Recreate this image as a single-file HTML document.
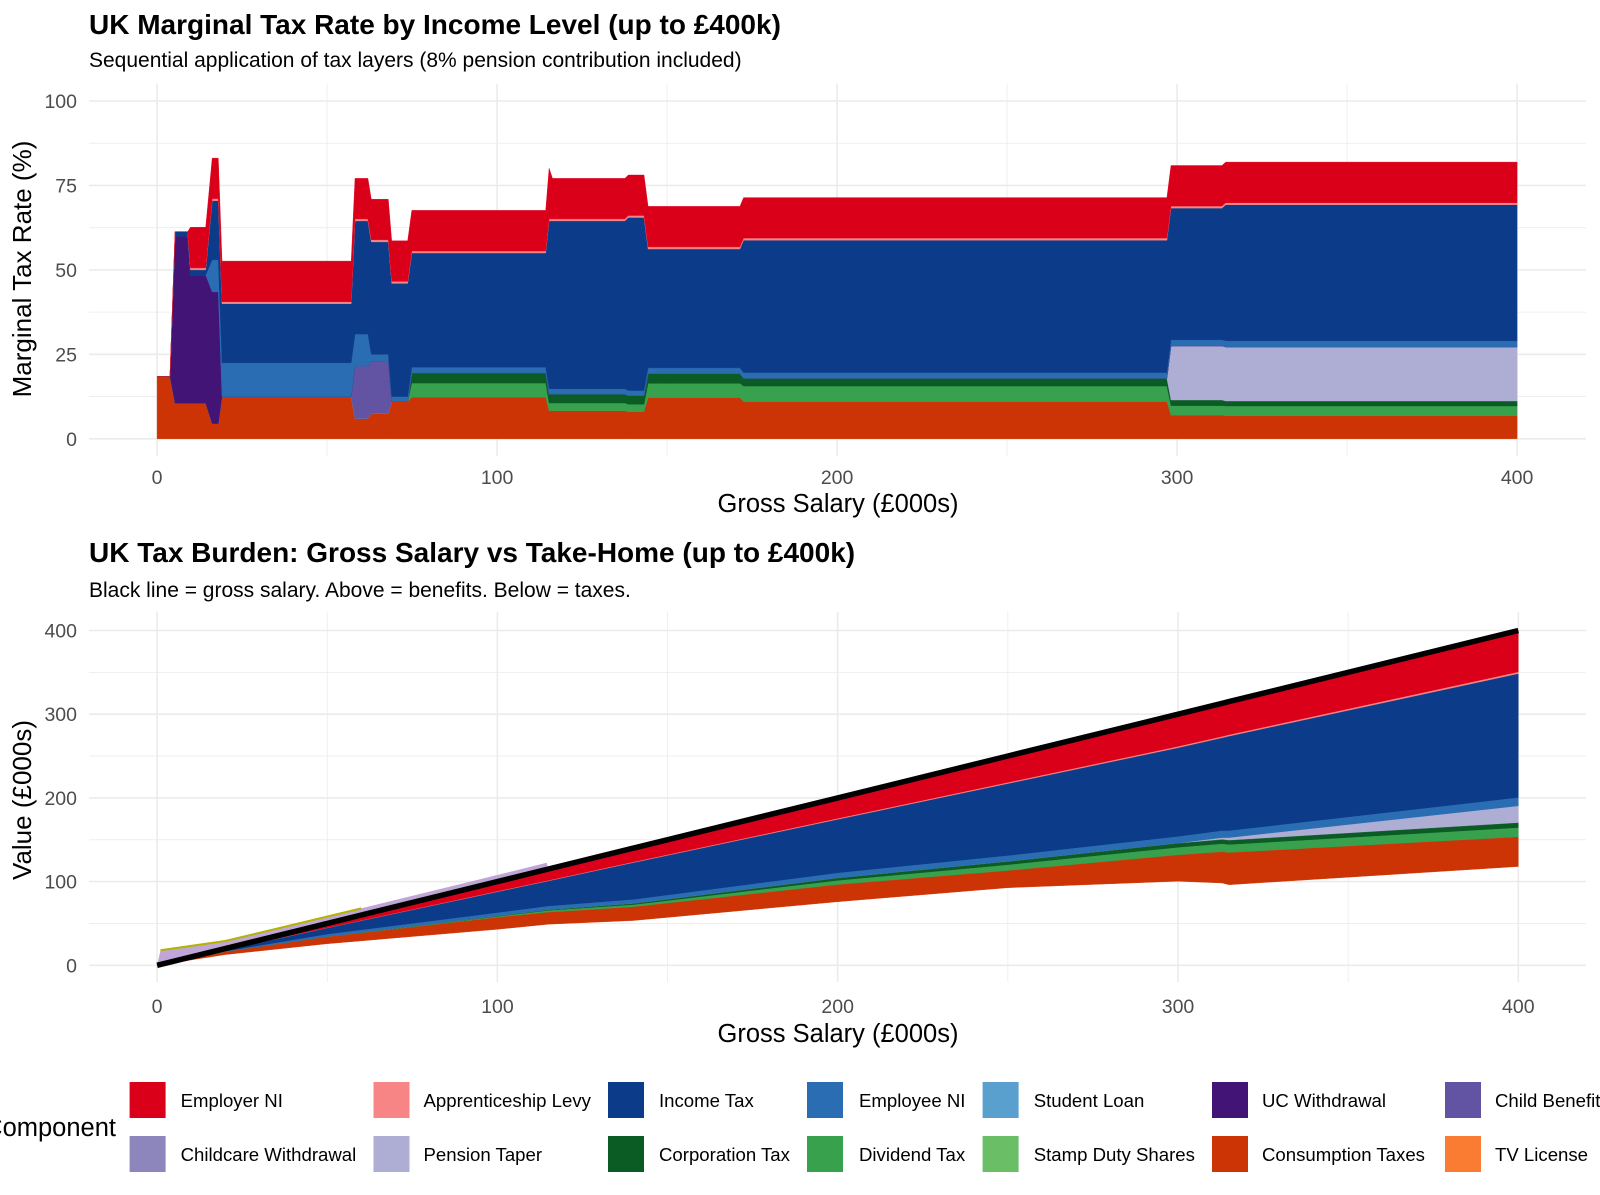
<!DOCTYPE html>
<html><head><meta charset="utf-8"><style>
html,body{margin:0;padding:0;background:#fff;}
svg{display:block;font-family:"Liberation Sans",Arial,sans-serif;}
</style></head><body>
<svg id="chart" width="1600" height="1195" viewBox="0 0 1600 1195" xmlns="http://www.w3.org/2000/svg">
<g id="top-grid"></g>
<g id="top-areas"></g>
<g id="bot-grid"></g>
<g id="bot-areas"></g>
<g id="axes-text"></g>
<text x="89" y="34" font-size="28" font-weight="bold" fill="#000">UK Marginal Tax Rate by Income Level (up to £400k)</text>
<text x="89" y="67" font-size="21" fill="#000">Sequential application of tax layers (8% pension contribution included)</text>
<text x="89" y="562" font-size="28" font-weight="bold" fill="#000">UK Tax Burden: Gross Salary vs Take-Home (up to £400k)</text>
<text x="89" y="597" font-size="21" fill="#000">Black line = gross salary. Above = benefits. Below = taxes.</text>
<text transform="translate(31,269) rotate(-90)" text-anchor="middle" font-size="26" fill="#000">Marginal Tax Rate (%)</text>
<text x="838" y="512" text-anchor="middle" font-size="25.5" fill="#000">Gross Salary (£000s)</text>
<text transform="translate(31,800) rotate(-90)" text-anchor="middle" font-size="26" fill="#000">Value (£000s)</text>
<text x="838" y="1042" text-anchor="middle" font-size="25.5" fill="#000">Gross Salary (£000s)</text>
<text x="116" y="1136" text-anchor="end" font-size="25.5" fill="#000">Component</text>
<g id="legend"></g>
</svg>
<script>
// ---------- Top chart data (marginal rate, %) ----------
const topX = [0,3.8,5.3,9,9.8,14.3,16.2,18,19.1,57.1,58.2,62,63,68,69,73.7,74.9,114.3,115.3,116.3,137.6,138.6,143.2,144.4,171.4,172.5,297,298.2,313.2,314.3,400];
const topConsumption = [18.5,18.5,10.5,10.5,10.5,10.5,4.5,4.5,12.5,12.5,6,6,7.5,7.5,11,11,12.3,12.3,8.3,8.3,8.3,8,8,12.2,12.2,11,11,7,7,6.8,6.8];
const topDividend = [0,0,0,0,0,0,0,0,0,0,0,0,0,0,0,0,4.2,4.2,2.3,2.3,2.3,2.2,2.2,4.2,4.2,4.6,4.6,2.8,2.8,2.9,2.9];
const topCorporation = [0,0,0,0,0,0,0,0,0,0,0,0,0,0,0,0,3,3,2.6,2.6,2.6,2.6,2.6,2.9,2.9,2.3,2.3,1.7,1.7,1.5,1.5];
const topPension = [0,0,0,0,0,0,0,0,0,0,0,0,0,0,0,0,0,0,0,0,0,0,0,0,0,0,0,16,16,16,16];
const topChildBenefit = [0,0,0,0,0,0,0,0,0,0,15.5,15.5,15.5,15.5,0,0,0,0,0,0,0,0,0,0,0,0,0,0,0,0,0];
const topUC = [0,0,49.5,49.5,38,38,39,39,0,0,0,0,0,0,0,0,0,0,0,0,0,0,0,0,0,0,0,0,0,0,0];
const topEmployeeNI = [0,0,0,0,0,0,9.5,9.5,10,10,9.5,9.5,2,2,1.5,1.5,1.7,1.7,1.6,1.6,1.6,1.5,1.5,1.7,1.7,1.7,1.7,1.8,1.8,1.8,1.8];
const topIncomeTax = [0,0,1.3,1.3,1.5,1.5,17.5,17.5,17.5,17.5,33.5,33.5,33.3,33.3,33.5,33.5,33.8,33.8,49.7,49.7,49.7,51.2,51.2,35.2,35.2,39.2,39.2,39,39,40.3,40.3];
const topLevy = [0,0,0,0,0.6,0.6,0.6,0.6,0.6,0.6,0.6,0.6,0.6,0.6,0.6,0.6,0.6,0.6,0.6,0.6,0.6,0.6,0.6,0.6,0.6,0.6,0.6,0.6,0.6,0.6,0.6];
const topEmployerNI = [0,0,0,0,12,12,12,12,12,12,12,12,12,12,12,12,12,12,15,12,12,12,12,12,12,12,12,12,12,12,12];
const topYTicks = [0,25,50,75,100];
const xTicks = [0,100,200,300,400];

// ---------- Bottom chart data (£000s) ----------
const botX = [0,20,50,100,115,140,200,250,300,313,315,400];
const botGross = [0,20,50,100,115,140,200,250,300,313,315,400];
const botEmployerNI = [0,2,5.5,12,14,17,25,32,39,40,40,50];
const botLevy = [0,0.1,0.25,0.5,0.6,0.7,1,1.25,1.5,1.6,1.6,2];
const botIncomeTax = [0,1.5,7.5,25,30,44,64,86,106,111,113,148];
const botEmployeeNI = [0,0.6,3,4,4.3,4.8,6,7,8,8.3,8.3,10];
const botPension = [0,0,0,0,0,0,0,0,0,2,3,20];
const botCorporation = [0,0,0,0.5,1,1.5,3,4,5,5.3,5.3,6];
const botDividend = [0,0,0,1,2,2.5,5,7,9,9.5,9.5,11];
const botConsumption = [0,3,8,14,14,16,20,20,31,37,38,35];
const benefitX = [0,1,20,60,114.5,115];
const benefitValues = [0,17,9,8,8,0];
const botYTicks = [0,100,200,300,400];

const legendNames = ["Employer NI","Apprenticeship Levy","Income Tax","Employee NI","Student Loan","UC Withdrawal","Child Benefit","Childcare Withdrawal","Pension Taper","Corporation Tax","Dividend Tax","Stamp Duty Shares","Consumption Taxes","TV License"];
const legendColors = ["#da0019","#f88585","#0c3c89","#2a6db3","#5aa0cf","#421476","#6354a3","#8d86bd","#aeadd4","#0b5b24","#38a14e","#6abe66","#cc3305","#f97c32"];

// ---------- axis functions ----------
function xTop(v){ return 157.1 + v*3.4; }
function yTop(v){ return 438.8 - v*3.378; }
function xBot(v){ return 157.1 + v*3.403; }
function yBot(v){ return 965.3 - v*0.837; }

const NS = "http://www.w3.org/2000/svg";
function mk(tag, attrs, parent){ const e=document.createElementNS(NS,tag); for(const k in attrs) e.setAttribute(k,attrs[k]); parent.appendChild(e); return e; }

// grids
const tg = document.getElementById('top-grid');
for (let v=0; v<=100; v+=12.5){
  const major = (v%25===0);
  const l = mk('line',{x1:89,x2:1586,y1:yTop(v),y2:yTop(v),stroke:'#ebebeb','stroke-width':major?1.6:0.8},tg);
  
  
}
for (let v=0; v<=400; v+=50){
  const major = (v%100===0);
  const l = mk('line',{x1:xTop(v),x2:xTop(v),y1:84,y2:456,stroke:'#ebebeb','stroke-width':major?1.6:0.8},tg);
  
  
}
const bg = document.getElementById('bot-grid');
for (let v=0; v<=400; v+=50){
  const major = (v%100===0);
  const l = mk('line',{x1:89,x2:1586,y1:yBot(v),y2:yBot(v),stroke:'#ebebeb','stroke-width':major?1.6:0.8},bg);
  
  
  const m = mk('line',{x1:xBot(v),x2:xBot(v),y1:612,y2:982,stroke:'#ebebeb','stroke-width':major?1.6:0.8},bg);
  
  
}

// top stacked areas
const ta = document.getElementById('top-areas');
const topLayers = [
  ['consumption-taxes-area', topConsumption, '#cc3305'],
  ['dividend-tax-area', topDividend, '#38a14e'],
  ['corporation-tax-area', topCorporation, '#0b5b24'],
  ['pension-taper-area', topPension, '#aeadd4'],
  ['child-benefit-area', topChildBenefit, '#6354a3'],
  ['uc-withdrawal-area', topUC, '#421476'],
  ['employee-ni-area', topEmployeeNI, '#2a6db3'],
  ['income-tax-area', topIncomeTax, '#0c3c89'],
  ['apprenticeship-levy-area', topLevy, '#f88585'],
  ['employer-ni-area', topEmployerNI, '#da0019']
];
let base = topX.map(()=>0);
topLayers.forEach(([name, vals, col])=>{
  const top = base.map((b,i)=>b+vals[i]);
  let d = '';
  topX.forEach((x,i)=>{ d += (i?'L':'M') + xTop(x).toFixed(1)+','+yTop(top[i]).toFixed(1); });
  for (let i=topX.length-1;i>=0;i--) d += 'L'+xTop(topX[i]).toFixed(1)+','+yTop(base[i]).toFixed(1);
  d += 'Z';
  const p = mk('path',{d:d,fill:col,stroke:col,'stroke-width':0.4},ta);
  
  
  base = top;
});

// bottom stacked areas (stacked downward from gross)
const ba = document.getElementById('bot-areas');
{
  let d='';
  benefitX.forEach((x,i)=>{ d += (i?'L':'M')+xBot(x).toFixed(1)+','+yBot(x+benefitValues[i]).toFixed(1); });
  for (let i=benefitX.length-1;i>=0;i--) d += 'L'+xBot(benefitX[i]).toFixed(1)+','+yBot(benefitX[i]).toFixed(1);
  d+='Z';
  const p = mk('path',{d:d,fill:'#bfa6d7',stroke:'none'},ba);
  
  
  let d2='';
  benefitX.slice(1,4).forEach((x,i)=>{ const j=i+1; d2 += (i?'L':'M')+xBot(x).toFixed(1)+','+yBot(x+benefitValues[j]).toFixed(1); });
  const s = mk('path',{d:d2,fill:'none',stroke:'#b3b300','stroke-width':2},ba);
  
  
}
const botLayers = [
  ['employer-ni-band', botEmployerNI, '#da0019'],
  ['apprenticeship-levy-band', botLevy, '#f88585'],
  ['income-tax-band', botIncomeTax, '#0c3c89'],
  ['employee-ni-band', botEmployeeNI, '#2a6db3'],
  ['pension-taper-band', botPension, '#aeadd4'],
  ['corporation-tax-band', botCorporation, '#0b5b24'],
  ['dividend-tax-band', botDividend, '#38a14e'],
  ['consumption-taxes-band', botConsumption, '#cc3305']
];
let upper = botGross.slice();
botLayers.forEach(([name, vals, col])=>{
  const lower = upper.map((u,i)=>u-vals[i]);
  let d='';
  botX.forEach((x,i)=>{ d += (i?'L':'M')+xBot(x).toFixed(1)+','+yBot(upper[i]).toFixed(1); });
  for (let i=botX.length-1;i>=0;i--) d += 'L'+xBot(botX[i]).toFixed(1)+','+yBot(lower[i]).toFixed(1);
  d+='Z';
  const p = mk('path',{d:d,fill:col,stroke:col,'stroke-width':0.4},ba);
  
  
  upper = lower;
});
{
  let d='';
  botX.forEach((x,i)=>{ d += (i?'L':'M')+xBot(x).toFixed(1)+','+yBot(botGross[i]).toFixed(1); });
  const l = mk('path',{d:d,fill:'none',stroke:'#000','stroke-width':5.5},ba);
  
  
}

// tick labels
const at = document.getElementById('axes-text');
topYTicks.forEach(v=>{
  const t = mk('text',{x:77,y:yTop(v)+7,'text-anchor':'end','font-size':19.5,fill:'#4d4d4d'},at);
  t.textContent = v;
  
  
});
botYTicks.forEach(v=>{
  const t = mk('text',{x:77,y:yBot(v)+7,'text-anchor':'end','font-size':19.5,fill:'#4d4d4d'},at);
  t.textContent = v;
  
  
});
xTicks.forEach(v=>{
  const t = mk('text',{x:xTop(v),y:484,'text-anchor':'middle','font-size':19.5,fill:'#4d4d4d'},at);
  t.textContent = v;
  
  
  const u = mk('text',{x:xBot(v),y:1013,'text-anchor':'middle','font-size':19.5,fill:'#4d4d4d'},at);
  u.textContent = v;
  
  
});

// legend
const lg = document.getElementById('legend');
const keyX = [129.6,373.5,608,807,982.6,1212,1445];
const labX = [180.6,423.5,659,859,1033.7,1262,1495];
legendNames.forEach((n,i)=>{
  const row = Math.floor(i/7), col = i%7;
  const g = mk('g',{},lg);
  
  
  const r = mk('rect',{x:keyX[col],y:row?1136:1082,width:36,height:36,fill:legendColors[i]},g);
  
  
  const t = mk('text',{x:labX[col],y:row?1161:1107,'font-size':18.6,fill:'#000'},g);
  t.textContent = n;
  
  
});
</script>
</body></html>
